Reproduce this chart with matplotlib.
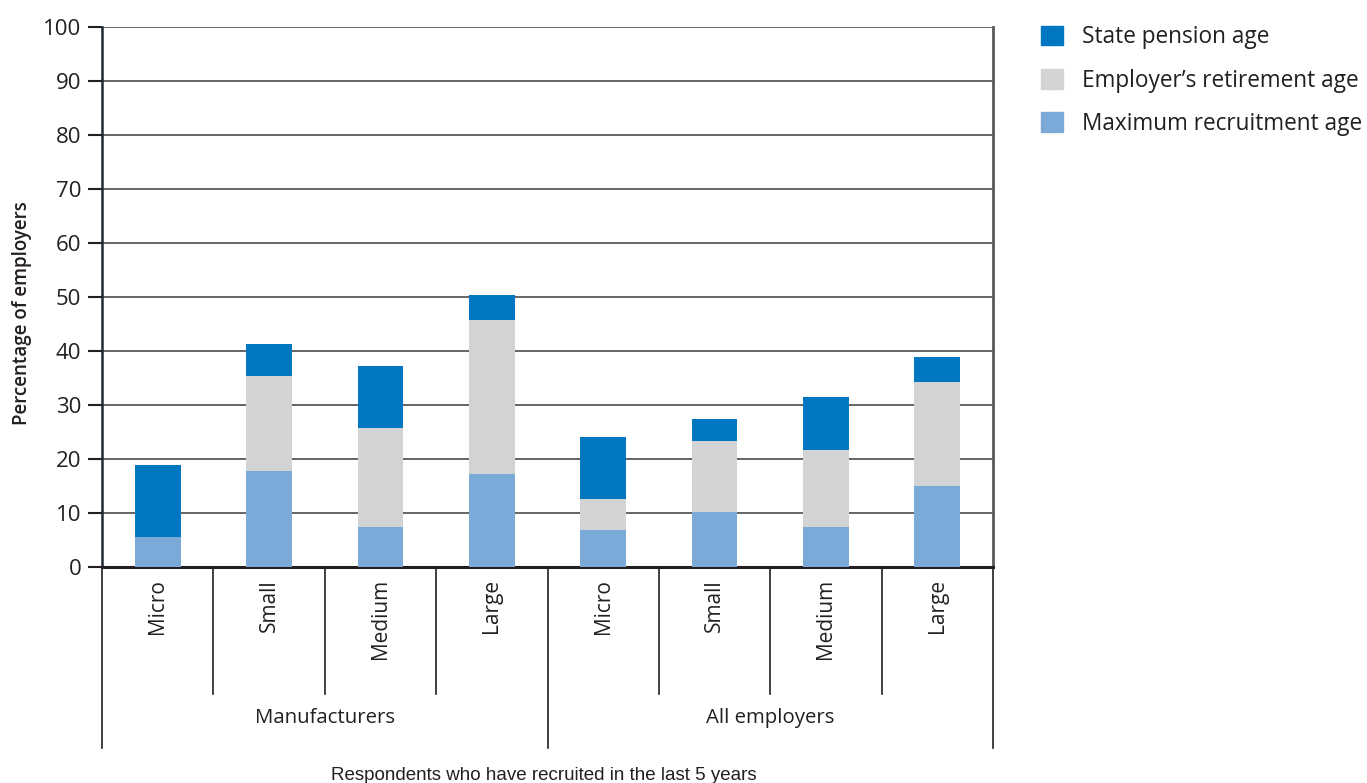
import matplotlib.pyplot as plt
import matplotlib.transforms as mtransforms
from matplotlib.patches import Patch

plt.rcParams['font.family'] = ['Open Sans', 'DejaVu Sans']

# data (percent of employers)
sizes = ["Micro", "Small", "Medium", "Large", "Micro", "Small", "Medium", "Large"]
groups = ["Manufacturers", "All employers"]
max_recruit = [5.6, 17.8, 7.4, 17.2, 6.9, 10.2, 7.4, 15.0]
employer_ret = [0.0, 17.6, 18.3, 28.5, 5.7, 13.1, 14.3, 19.3]
state_pension = [13.3, 5.9, 11.5, 4.7, 11.5, 4.1, 9.8, 4.6]

c_dark = "#0077C0"
c_grey = "#D1D3D4"
c_light = "#7BAAD9"
txt = "#231F20"

fig = plt.figure(figsize=(13.67, 7.83), dpi=100)
ax = fig.add_axes([102/1367, 1 - 567/783, (993-102)/1367, 540/783])

x = list(range(len(sizes)))
w = 0.41
ax.bar(x, max_recruit, w, color=c_light, zorder=3)
bottom2 = [a for a in max_recruit]
ax.bar(x, employer_ret, w, bottom=bottom2, color=c_grey, zorder=3)
bottom3 = [a + b for a, b in zip(max_recruit, employer_ret)]
ax.bar(x, state_pension, w, bottom=bottom3, color=c_dark, zorder=3)

ax.set_xlim(-0.5, len(sizes) - 0.5)
ax.set_ylim(0, 100)
ax.set_yticks(range(0, 101, 10))
ax.yaxis.grid(True, color="#4a4a4a", linewidth=1.2, zorder=0)
ax.tick_params(axis='y', length=10, width=1.5, color=txt, labelsize=16,
               labelcolor=txt, pad=5)
ax.set_xticks([])
ax.spines["top"].set_visible(False)
ax.spines["left"].set_color("#1f2a33")
ax.spines["left"].set_linewidth(1.8)
ax.spines["right"].set_color("#5a5a5a")
ax.spines["right"].set_linewidth(2)
ax.spines["bottom"].set_color(txt)
ax.spines["bottom"].set_linewidth(2.2)

# hierarchical category axis below the plot
trans = mtransforms.blended_transform_factory(ax.transData, ax.transAxes)
for i in range(len(sizes) + 1):
    xx = i - 0.5
    low = -0.335 if i % 4 == 0 else -0.235
    ax.plot([xx, xx], [0, low], transform=trans, color=txt, lw=1.2,
            clip_on=False)
for i, s in enumerate(sizes):
    ax.text(i, -0.022, s, transform=trans, rotation=90, ha="center",
            va="top", fontsize=15, color=txt)
for g, name in enumerate(groups):
    ax.text(g * 4 + 1.5, -0.28, name, transform=trans, ha="center",
            va="center", fontsize=14.7, color=txt)

ax.set_ylabel("Percentage of employers", fontsize=13.5, color=txt,
              fontweight="semibold")
ax.yaxis.set_label_coords(-0.0785, 0.47)
fig.text(544/1367, 1 - 775/783, "Respondents who have recruited in the last 5 years",
         ha="center", va="center", fontsize=13.5, color=txt,
         family="Liberation Sans")

handles = [Patch(color=c_dark), Patch(color=c_grey), Patch(color=c_light)]
labels = ["State pension age", "Employer\u2019s retirement age", "Maximum recruitment age"]
fig.legend(handles, labels, loc="upper left", bbox_to_anchor=(1030/1367, 1 - 14/783),
           frameon=False, fontsize=16.3, handlelength=0.95, handleheight=0.95,
           labelspacing=0.85, handletextpad=0.85, borderpad=0,
           labelcolor=txt)

fig.savefig("out.png", dpi=100)
